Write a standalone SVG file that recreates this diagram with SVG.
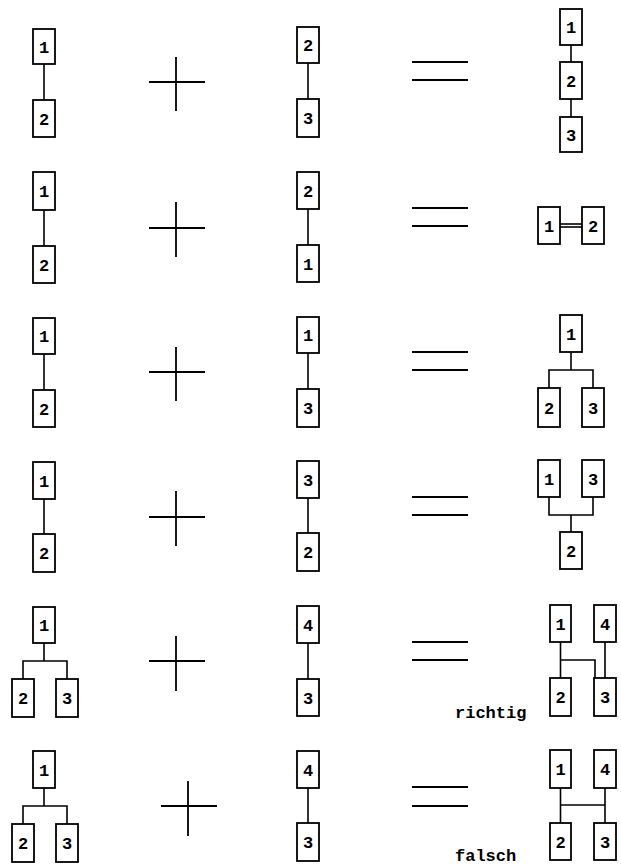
<svg xmlns="http://www.w3.org/2000/svg" width="621" height="867" viewBox="0 0 621 867">
<style>
.box{fill:#fff;stroke:#000;stroke-width:1.8}
.lbl{font-family:"Liberation Mono","DejaVu Sans Mono",monospace;font-size:17px;font-weight:bold;text-anchor:middle;fill:#000}
.ln{stroke:#000;stroke-width:1.6;fill:none}
.sym{stroke:#000;stroke-width:1.8;fill:none}
.note{font-family:"Liberation Mono","Courier New",monospace;font-size:17px;font-weight:bold;fill:#000}
</style>
<rect width="621" height="867" fill="#fff"/>

<g id="connectors">
<!-- row 1 -->
<line class="ln" x1="44" y1="64" x2="44" y2="100"/>
<line class="ln" x1="308" y1="63" x2="308" y2="99"/>
<line class="ln" x1="571" y1="45" x2="571" y2="62"/>
<line class="ln" x1="571" y1="99" x2="571" y2="117"/>
<!-- row 2 -->
<line class="ln" x1="44" y1="210" x2="44" y2="246"/>
<line class="ln" x1="308" y1="209" x2="308" y2="245"/>
<line class="ln" x1="560" y1="224" x2="582" y2="224" stroke-width="1.2"/>
<line class="ln" x1="560" y1="227" x2="582" y2="227" stroke-width="1.2"/>
<!-- row 3 -->
<line class="ln" x1="44" y1="354" x2="44" y2="390"/>
<line class="ln" x1="308" y1="353" x2="308" y2="389"/>
<polyline class="ln" points="571,352 571,370"/>
<polyline class="ln" points="549,388 549,370 593,370 593,388"/>
<!-- row 4 -->
<line class="ln" x1="44" y1="499" x2="44" y2="534"/>
<line class="ln" x1="308" y1="498" x2="308" y2="533"/>
<polyline class="ln" points="549,497 549,515 593,515 593,497"/>
<line class="ln" x1="571" y1="515" x2="571" y2="532"/>
<!-- row 5 -->
<line class="ln" x1="44" y1="643" x2="44" y2="661"/>
<polyline class="ln" points="23,679 23,661 67,661 67,679"/>
<line class="ln" x1="308" y1="643" x2="308" y2="679"/>
<line class="ln" x1="560.5" y1="642" x2="560.5" y2="678"/>
<line class="ln" x1="605" y1="642" x2="605" y2="678"/>
<polyline class="ln" points="560.5,660 595,660 595,678"/>
<!-- row 6 -->
<line class="ln" x1="44" y1="788" x2="44" y2="806"/>
<polyline class="ln" points="23,824 23,806 67,806 67,824"/>
<line class="ln" x1="308" y1="788" x2="308" y2="823"/>
<line class="ln" x1="560.5" y1="788" x2="560.5" y2="823"/>
<line class="ln" x1="605" y1="788" x2="605" y2="823"/>
<line class="ln" x1="560.5" y1="805" x2="605" y2="805"/>
</g>

<g id="operators">
<path class="sym" d="M149 82H205M176 57V111"/>
<path class="sym" d="M412 62H468M412 80H468"/>
<path class="sym" d="M149 228H205M176 202V257"/>
<path class="sym" d="M412 208H468M412 226H468"/>
<path class="sym" d="M149 372H205M176 347V401"/>
<path class="sym" d="M412 352H468M412 370H468"/>
<path class="sym" d="M149 517H205M176 491V546"/>
<path class="sym" d="M412 497H468M412 515H468"/>
<path class="sym" d="M149 661H205M176 636V691"/>
<path class="sym" d="M412 642H468M412 660H468"/>
<path class="sym" d="M161 806H217M188 781V836"/>
<path class="sym" d="M412 787H468M412 806H468"/>
</g>

<!-- row 1 -->
<g id="r1-a1"><rect class="box" x="33" y="29" width="22" height="35"/><text class="lbl" x="44" y="52.5">1</text></g>
<g id="r1-a2"><rect class="box" x="33" y="100" width="22" height="37"/><text class="lbl" x="44" y="124.5">2</text></g>
<g id="r1-b2"><rect class="box" x="297" y="27" width="22" height="36"/><text class="lbl" x="308" y="51">2</text></g>
<g id="r1-b3"><rect class="box" x="297" y="99" width="22" height="38"/><text class="lbl" x="308" y="124">3</text></g>
<g id="r1-c1"><rect class="box" x="560" y="9" width="22" height="36"/><text class="lbl" x="571" y="33">1</text></g>
<g id="r1-c2"><rect class="box" x="560" y="62" width="22" height="37"/><text class="lbl" x="571" y="86.5">2</text></g>
<g id="r1-c3"><rect class="box" x="560" y="117" width="22" height="35"/><text class="lbl" x="571" y="140.5">3</text></g>

<!-- row 2 -->
<g id="r2-a1"><rect class="box" x="33" y="172" width="22" height="38"/><text class="lbl" x="44" y="197">1</text></g>
<g id="r2-a2"><rect class="box" x="33" y="246" width="22" height="37"/><text class="lbl" x="44" y="270.5">2</text></g>
<g id="r2-b2"><rect class="box" x="297" y="172" width="22" height="37"/><text class="lbl" x="308" y="196.5">2</text></g>
<g id="r2-b1"><rect class="box" x="297" y="245" width="22" height="37"/><text class="lbl" x="308" y="269.5">1</text></g>
<g id="r2-c1"><rect class="box" x="538" y="207" width="22" height="37"/><text class="lbl" x="549" y="231.5">1</text></g>
<g id="r2-c2"><rect class="box" x="582" y="207" width="22" height="37"/><text class="lbl" x="593" y="231.5">2</text></g>

<!-- row 3 -->
<g id="r3-a1"><rect class="box" x="33" y="318" width="22" height="36"/><text class="lbl" x="44" y="342">1</text></g>
<g id="r3-a2"><rect class="box" x="33" y="390" width="22" height="37"/><text class="lbl" x="44" y="414.5">2</text></g>
<g id="r3-b1"><rect class="box" x="297" y="317" width="22" height="36"/><text class="lbl" x="308" y="341">1</text></g>
<g id="r3-b3"><rect class="box" x="297" y="389" width="22" height="38"/><text class="lbl" x="308" y="414">3</text></g>
<g id="r3-c1"><rect class="box" x="560" y="315" width="22" height="37"/><text class="lbl" x="571" y="339.5">1</text></g>
<g id="r3-c2"><rect class="box" x="538" y="388" width="22" height="39"/><text class="lbl" x="549" y="413.5">2</text></g>
<g id="r3-c3"><rect class="box" x="582" y="388" width="22" height="39"/><text class="lbl" x="593" y="413.5">3</text></g>

<!-- row 4 -->
<g id="r4-a1"><rect class="box" x="33" y="462" width="22" height="37"/><text class="lbl" x="44" y="486.5">1</text></g>
<g id="r4-a2"><rect class="box" x="33" y="534" width="22" height="38"/><text class="lbl" x="44" y="559">2</text></g>
<g id="r4-b3"><rect class="box" x="297" y="461" width="22" height="37"/><text class="lbl" x="308" y="485.5">3</text></g>
<g id="r4-b2"><rect class="box" x="297" y="533" width="22" height="38"/><text class="lbl" x="308" y="558">2</text></g>
<g id="r4-c1"><rect class="box" x="538" y="460" width="22" height="37"/><text class="lbl" x="549" y="484.5">1</text></g>
<g id="r4-c3"><rect class="box" x="582" y="460" width="22" height="37"/><text class="lbl" x="593" y="484.5">3</text></g>
<g id="r4-c2"><rect class="box" x="560" y="532" width="22" height="37"/><text class="lbl" x="571" y="556.5">2</text></g>

<!-- row 5 -->
<g id="r5-a1"><rect class="box" x="33" y="607" width="22" height="36"/><text class="lbl" x="44" y="631">1</text></g>
<g id="r5-a2"><rect class="box" x="12" y="679" width="22" height="38"/><text class="lbl" x="23" y="704">2</text></g>
<g id="r5-a3"><rect class="box" x="56" y="679" width="22" height="38"/><text class="lbl" x="67" y="704">3</text></g>
<g id="r5-b4"><rect class="box" x="297" y="606" width="22" height="37"/><text class="lbl" x="308" y="630.5">4</text></g>
<g id="r5-b3"><rect class="box" x="297" y="679" width="22" height="37"/><text class="lbl" x="308" y="703.5">3</text></g>
<g id="r5-c1"><rect class="box" x="550" y="605" width="21" height="37"/><text class="lbl" x="560.5" y="629.5">1</text></g>
<g id="r5-c4"><rect class="box" x="594" y="605" width="22" height="37"/><text class="lbl" x="605" y="629.5">4</text></g>
<g id="r5-c2"><rect class="box" x="550" y="678" width="21" height="38"/><text class="lbl" x="560.5" y="703">2</text></g>
<g id="r5-c3"><rect class="box" x="594" y="678" width="22" height="38"/><text class="lbl" x="605" y="703">3</text></g>
<text class="note" x="455" y="718">richtig</text>

<!-- row 6 -->
<g id="r6-a1"><rect class="box" x="33" y="751" width="22" height="37"/><text class="lbl" x="44" y="775.5">1</text></g>
<g id="r6-a2"><rect class="box" x="12" y="824" width="22" height="38"/><text class="lbl" x="23" y="849">2</text></g>
<g id="r6-a3"><rect class="box" x="56" y="824" width="22" height="38"/><text class="lbl" x="67" y="849">3</text></g>
<g id="r6-b4"><rect class="box" x="297" y="751" width="22" height="37"/><text class="lbl" x="308" y="775.5">4</text></g>
<g id="r6-b3"><rect class="box" x="297" y="823" width="22" height="38"/><text class="lbl" x="308" y="848">3</text></g>
<g id="r6-c1"><rect class="box" x="550" y="750" width="21" height="38"/><text class="lbl" x="560.5" y="775">1</text></g>
<g id="r6-c4"><rect class="box" x="594" y="750" width="22" height="38"/><text class="lbl" x="605" y="775">4</text></g>
<g id="r6-c2"><rect class="box" x="550" y="823" width="21" height="37"/><text class="lbl" x="560.5" y="847.5">2</text></g>
<g id="r6-c3"><rect class="box" x="594" y="823" width="22" height="37"/><text class="lbl" x="605" y="847.5">3</text></g>
<text class="note" x="455" y="861">falsch</text>
</svg>
